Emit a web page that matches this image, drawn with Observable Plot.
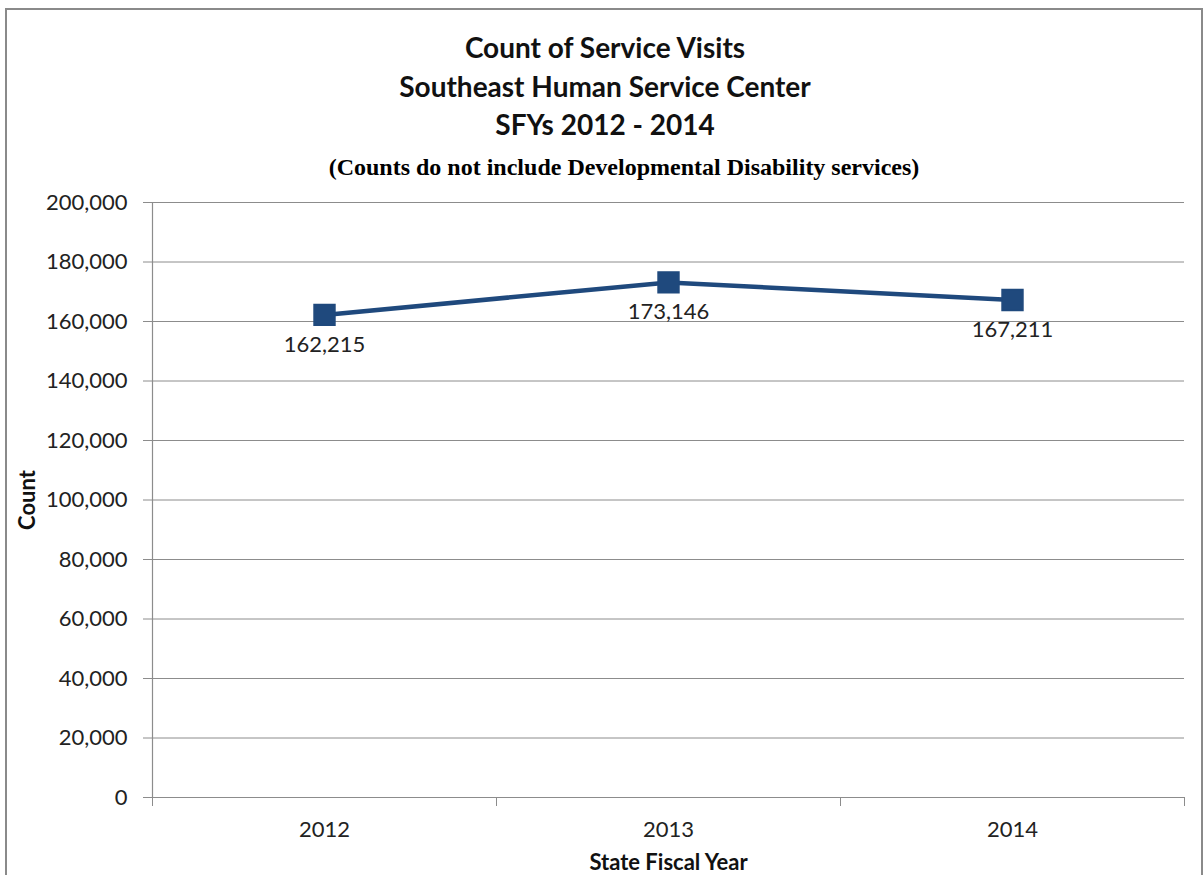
<!DOCTYPE html>
<html>
<head>
<meta charset="utf-8">
<script src="https://cdn.jsdelivr.net/npm/d3@7"></script>
<script src="https://cdn.jsdelivr.net/npm/@observablehq/plot@0.6"></script>
<style>
  html, body { margin: 0; padding: 0; background: #fff; }
  body { width: 1204px; height: 875px; overflow: hidden; position: relative; }
  #frame { position: absolute; left: 5px; top: 8px; width: 1194px; height: 900px; border: 2px solid #8a8a8a; }
  .t { position: absolute; left: 0; width: 1210px; text-align: center; font-family: Lato, "Open Sans", sans-serif; font-weight: bold; font-size: 28px; line-height: 28px; color: #111; white-space: nowrap; }
  #sub { position: absolute; left: 0; top: 155px; width: 1248px; text-align: center; font-family: "Liberation Serif", "Times New Roman", serif; font-weight: bold; font-size: 24px; line-height: 24px; color: #000; white-space: nowrap; }
  #chart { position: absolute; left: 0; top: 180px; }
</style>
</head>
<body>
<div id="frame"></div>
<div class="t" style="top:33px;">Count of Service Visits</div>
<div class="t" style="top:72px;">Southeast Human Service Center</div>
<div class="t" style="top:110px;">SFYs 2012 - 2014</div>
<div id="sub">(Counts do not include Developmental Disability services)</div>
<div id="chart"></div>
<script>
const years = [2012, 2013, 2014];
const counts = [162215, 173146, 167211];
const yTicks = [0, 20000, 40000, 60000, 80000, 100000, 120000, 140000, 160000, 180000, 200000];
const xBoundaries = [2011.5, 2012.5, 2013.5, 2014.5];

const data = years.map((y, i) => ({year: y, count: counts[i]}));
const fmt = d3.format(",");
const navy = "#1f497d";
const font = "Lato, 'Open Sans', sans-serif";

const chart = Plot.plot({
  width: 1204,
  height: 695,
  marginLeft: 152,
  marginRight: 20,
  marginTop: 22,
  marginBottom: 78,
  style: {fontFamily: font, fontSize: "22px", color: "#222", background: "transparent"},
  x: {type: "linear", domain: [2011.5, 2014.5]},
  y: {domain: [0, 200000]},
  marks: [
    Plot.gridY(yTicks, {stroke: "#8c8c8c", strokeOpacity: 1, strokeWidth: 1}),
    Plot.axisY(yTicks, {tickSize: 9, tickPadding: 16, stroke: "#8c8c8c", tickFormat: fmt, fontSize: 22, label: "Count", labelAnchor: "center", labelArrow: "none", labelOffset: 133}),
    Plot.axisX(xBoundaries, {tickSize: 9, stroke: "#8c8c8c", tickFormat: () => "", label: null}),
    Plot.axisX(years, {tickSize: 0, tickPadding: 24, tickFormat: d => String(d), fontSize: 22, label: "State Fiscal Year", labelAnchor: "center", labelArrow: "none", labelOffset: 72}),
    Plot.ruleX([2011.5], {stroke: "#8c8c8c", strokeWidth: 1.2}),
    Plot.ruleY([0], {stroke: "#8c8c8c", strokeWidth: 1.2}),
    Plot.line(data, {x: "year", y: "count", stroke: navy, strokeWidth: 4.5}),
    Plot.dot(data, {x: "year", y: "count", symbol: "square", r: 11.8, fill: navy, stroke: navy}),
    Plot.text(data, {x: "year", y: "count", text: d => fmt(d.count), dy: 30, fontSize: 22, fill: "#222"})
  ]
});
document.getElementById("chart").appendChild(chart);
// make only the axis titles bold
chart.querySelectorAll("g[aria-label='y-axis label'] text, g[aria-label='x-axis label'] text").forEach(t => { t.setAttribute("font-weight", "bold"); t.style.fill = "#111"; });
</script>
</body>
</html>
